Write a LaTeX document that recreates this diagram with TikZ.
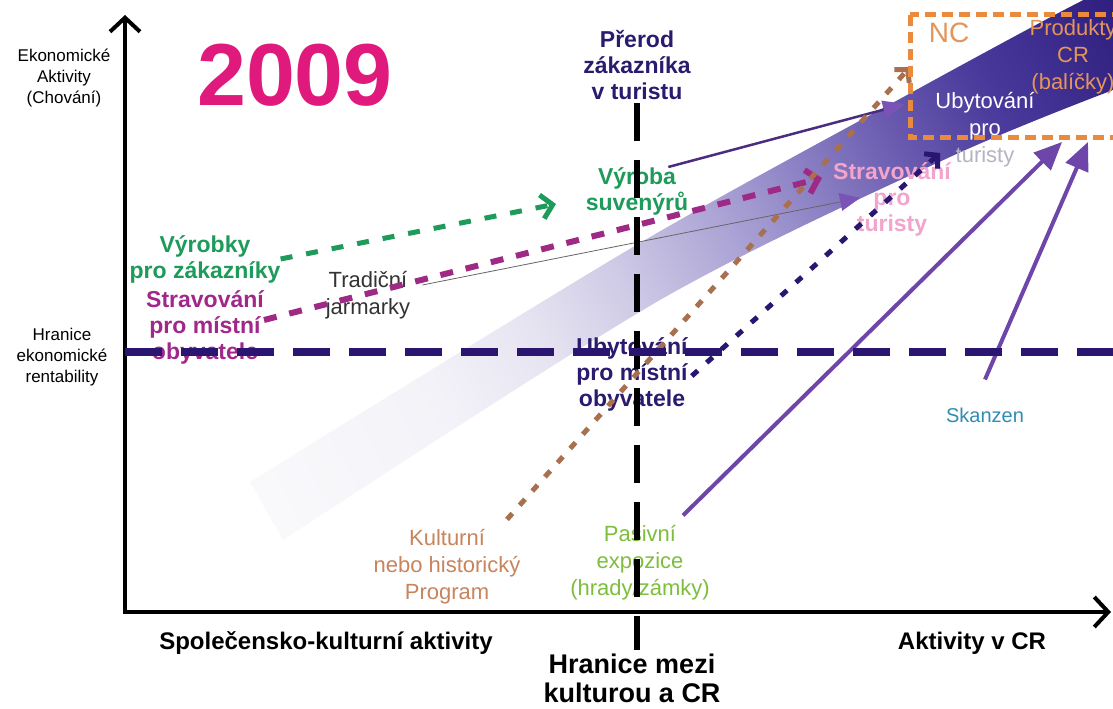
\documentclass[tikz,border=0pt]{standalone}
\usepackage{fontspec}
\setmainfont{Liberation Sans}
\usepackage{xcolor}
\usetikzlibrary{arrows.meta}
\definecolor{NavyText}{HTML}{2B1B6E}
\definecolor{LineNavy}{HTML}{2A1670}
\definecolor{GreenText}{HTML}{1E9A5A}
\definecolor{MagentaText}{HTML}{A1288A}
\definecolor{MagentaLine}{HTML}{9E2A85}
\definecolor{YearPink}{HTML}{E0197D}
\definecolor{BrownText}{HTML}{C8845C}
\definecolor{BrownLine}{HTML}{A8704E}
\definecolor{LimeText}{HTML}{7DBE3C}
\definecolor{SkanzenBlue}{HTML}{2F8DB5}
\definecolor{PinkText}{HTML}{F2A4CC}
\definecolor{OrangeNC}{HTML}{E98A3C}
\definecolor{OrangeText}{HTML}{E4955A}
\definecolor{ArrowPurple}{HTML}{6E45A8}
\definecolor{DarkPurple}{HTML}{4A2C80}
\definecolor{TipPurple}{HTML}{7B52B5}
\definecolor{GrayText}{HTML}{333333}
\definecolor{ThinGray}{HTML}{666666}
\definecolor{TuristyGray}{HTML}{B4B4C4}
\definecolor{BandA}{HTML}{FAFAFC}
\definecolor{BandB}{HTML}{F3F2F8}
\definecolor{BandC}{HTML}{E6E4F1}
\definecolor{BandD}{HTML}{CFCAE6}
\definecolor{BandE}{HTML}{A39BD1}
\definecolor{BandF}{HTML}{6A5BB0}
\definecolor{BandG}{HTML}{47389A}
\definecolor{BandH}{HTML}{2E1F7E}
\pgfdeclarehorizontalshading{bandshade}{100bp}{color(0bp)=(BandA); color(25bp)=(BandA); color(36.5bp)=(BandB); color(42bp)=(BandC); color(47bp)=(BandD); color(54bp)=(BandE); color(62bp)=(BandF); color(67.5bp)=(BandG); color(75bp)=(BandH); color(100bp)=(BandH)}

\begin{document}
\begin{tikzpicture}[x=1pt, y=1pt,
    catlabel/.style={font=\fontsize{23}{26}\selectfont\bfseries, align=center, inner sep=0pt},
    plainlabel/.style={font=\fontsize{22}{27}\selectfont, align=center, inner sep=0pt},
    axislabel/.style={font=\fontsize{17}{21}\selectfont, align=center, inner sep=0pt, text=black},
    bottomlabel/.style={font=\fontsize{24}{28}\selectfont\bfseries, align=center, inner sep=0pt, text=black},
    axisline/.style={draw=black, line width=4pt, {Straight Barb[length=14pt,width=30pt]}-{Straight Barb[length=14pt,width=30pt]}},
    divider/.style={draw=black, line width=6pt, dash pattern=on 38pt off 19pt},
    rentline/.style={draw=LineNavy, line width=8pt, dash pattern=on 37pt off 19pt},
    greendash/.style={draw=GreenText, line width=5pt, dash pattern=on 12pt off 14pt, -{Straight Barb[length=11pt,width=24pt]}},
    magentadash/.style={draw=MagentaLine, line width=6pt, dash pattern=on 13pt off 13pt, -{Straight Barb[length=11pt,width=24pt]}},
    browndots/.style={draw=BrownLine, line width=5pt, dash pattern=on 8pt off 11pt, -{Straight Barb[length=9pt,width=20pt]}},
    navydots/.style={draw=LineNavy, line width=5pt, dash pattern=on 8pt off 12pt, -{Straight Barb[length=9pt,width=20pt]}},
    thinlink/.style={draw=ThinGray, line width=0.8pt, -{Triangle[length=20pt,width=18pt,color=TipPurple]}},
    purplelink/.style={draw=DarkPurple, line width=2.5pt, -{Triangle[length=22pt,width=18pt,color=TipPurple]}},
    bigpurple/.style={draw=ArrowPurple, line width=4pt, -{Triangle[length=28pt,width=24pt]}},
    ncbox/.style={draw=OrangeNC, line width=5pt, dash pattern=on 11pt off 6pt}
]

\useasboundingbox[fill=white] (0,0) rectangle (1113,709);

% shaded band
\begin{scope}
    \clip plot[smooth] coordinates {(250,227) (633,462) (907,614) (1047,690) (1113,724)}
        -- plot[smooth] coordinates {(1113,619) (950,552) (660,409) (283,169)} -- cycle;
    \begin{scope}[transform canvas={rotate around={29.1:(265,198)}}]
        \shade[shading=bandshade] (240,0) rectangle (1260,400);
    \end{scope}
\end{scope}

\coordinate (origin) at (125,97);
\coordinate (ytop) at (125,694);
\coordinate (xend) at (1111,97);
\draw[axisline] (ytop) -- (origin) -- (xend);

\node[axislabel] (ekon) at (64,631) {Ekonomické\\Aktivity\\(Chování)};
\node[font=\fontsize{88}{90}\selectfont\bfseries, text=YearPink, inner sep=0pt] (year) at (295,634) {2009};
\node[catlabel, text=NavyText] (prerod) at (637,644) {Přerod\\zákazníka\\v turistu};
\node[catlabel, text=GreenText] (vyroba) at (637,518) {Výroba\\suvenýrů};
\node[catlabel, text=GreenText] (vyrobky) at (205,450) {Výrobky\\pro zákazníky};
\node[catlabel, text=MagentaText] (stravmistni) at (205,382) {Stravování\\pro místní\\obyvatele};
\node[plainlabel, text=GrayText] (tradicni) at (368,414) {Tradiční\\jarmarky};
\node[axislabel] (hranice) at (62,352) {Hranice\\ekonomické\\rentability};
\node[catlabel, text=NavyText] (ubytmistni) at (632,335) {Ubytování\\pro místní\\obyvatele};
\node[plainlabel, text=BrownText] (kulturni) at (447,142) {Kulturní\\nebo historický\\Program};
\node[plainlabel, text=LimeText] (pasivni) at (640,146) {Pasivní\\expozice\\(hrady/zámky)};
\node[plainlabel, text=SkanzenBlue, font=\fontsize{20}{24}\selectfont] (skanzen) at (985,294) {Skanzen};
\node[plainlabel, text=white] (ubytturisty) at (985,579) {Ubytování\\pro\\{\color{TuristyGray}turisty}};
\node[catlabel, text=PinkText] (stravturisty) at (892,510) {Stravování\\pro\\turisty};
\node[font=\fontsize{28}{30}\selectfont, text=OrangeText, inner sep=0pt] (nc) at (949,676) {NC};
\node[plainlabel, text=OrangeText] (produkty) at (1073,652) {Produkty\\CR\\(balíčky)};
\node[bottomlabel] (spolecenske) at (326,66) {Společensko-kulturní aktivity};
\node[bottomlabel] (aktivitycr) at (972,66) {Aktivity v CR};
\node[bottomlabel, font=\fontsize{27}{29}\selectfont\bfseries] (hranicecr) at (632,31) {Hranice mezi\\kulturou a CR};

\coordinate (greentip) at (556,505);
\coordinate (magentatip) at (822,531);
\coordinate (thintip) at (860,511);
\coordinate (vyrobatip) at (905,605);
\coordinate (browntip) at (910,642);
\coordinate (navytip) at (940,556);
\coordinate (pasivnitip) at (1062,567);
\coordinate (skanzentip) at (1088,567);

\draw[greendash] (vyrobky.east) -- (greentip);
\draw[magentadash] ([yshift=7pt]stravmistni.east) -- (magentatip);
\draw[thinlink] ([shift={(12pt,10pt)}]tradicni.east) -- (thintip);
\draw[purplelink] ([xshift=-20pt]vyroba.north east) -- (vyrobatip);
\draw[browndots] ([shift={(60pt,10pt)}]kulturni.north) -- (browntip);
\draw[navydots] ([shift={(4pt,-2pt)}]ubytmistni.east) -- (navytip);
\draw[bigpurple] ([shift={(43pt,10pt)}]pasivni.north) -- (pasivnitip);
\draw[bigpurple] ([yshift=28pt]skanzen.north) -- (skanzentip);

\draw[ncbox] (910,694) rectangle (1140,571);

\coordinate (divtop) at (637,606);
\coordinate (divbot) at (637,59);
\draw[divider] (divtop) -- (divbot);

\coordinate (rentleft) at (125,357);
\coordinate (rentright) at (1113,357);
\draw[rentline] (rentleft) -- (rentright);

\end{tikzpicture}
\end{document}
